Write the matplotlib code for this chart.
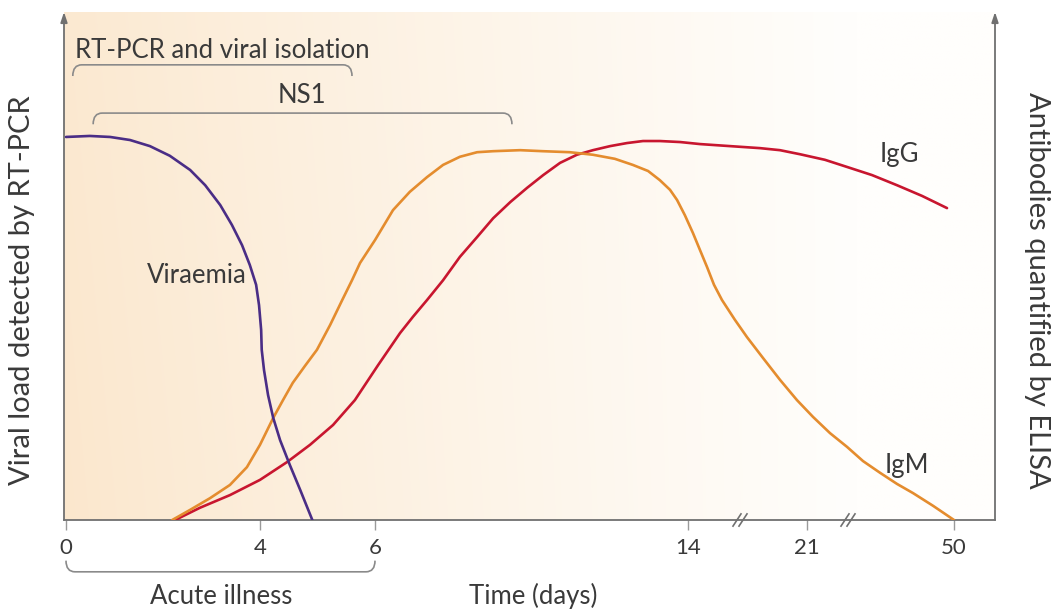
import numpy as np
import matplotlib
matplotlib.use("Agg")
import matplotlib.pyplot as plt
from matplotlib.path import Path
from matplotlib.patches import PathPatch

plt.rcParams['font.family'] = ['Lato', 'DejaVu Sans']

# ---------------- data ----------------
tick_days = [0, 4, 6, 14, 21, 50]
tick_labels = ['0', '4', '6', '14', '21', '50']

viraemia_days = [0.00, 0.49, 0.91, 1.32, 1.73, 2.14, 2.56, 2.87, 3.18, 3.42, 3.63, 3.79,
                 3.92, 3.98, 4.02, 4.03, 4.07, 4.14, 4.23, 4.35, 4.52, 4.70, 4.91]
viraemia_vals = [0.754, 0.756, 0.754, 0.748, 0.736, 0.717, 0.689, 0.659, 0.620, 0.581,
                 0.541, 0.502, 0.463, 0.423, 0.374, 0.335, 0.295, 0.246, 0.201, 0.157,
                 0.108, 0.059, 0.0]

igm_days = [2.19, 2.56, 2.97, 3.38, 3.73, 4.00, 4.23, 4.40, 4.57, 4.78, 4.99, 5.22, 5.43,
            5.60, 5.74, 6.00, 6.46, 6.89, 7.33, 7.74, 8.17, 8.61, 9.02, 9.71, 10.29,
            10.98, 11.57, 12.13, 12.59, 12.98, 13.28, 13.54, 13.72, 13.92, 14.29, 14.71,
            15.12, 15.53, 16.00, 16.76, 17.47, 18.41, 19.41, 20.41, 22.18, 25.54, 28.89,
            32.05, 35.40, 38.76, 41.91, 45.86, 50.0]
igm_vals = [0.0, 0.020, 0.043, 0.069, 0.104, 0.148, 0.201, 0.236, 0.270, 0.303, 0.335,
            0.384, 0.433, 0.472, 0.506, 0.551, 0.610, 0.646, 0.675, 0.699, 0.715, 0.724,
            0.726, 0.728, 0.726, 0.724, 0.719, 0.711, 0.699, 0.687, 0.669, 0.650, 0.630,
            0.600, 0.565, 0.531, 0.498, 0.463, 0.433, 0.394, 0.360, 0.319, 0.276, 0.236,
            0.203, 0.171, 0.144, 0.116, 0.093, 0.071, 0.053, 0.028, 0.0]

igg_days = [2.25, 2.76, 3.38, 4.00, 4.47, 4.87, 5.27, 5.65, 6.08, 6.64, 6.97, 7.33, 7.74,
            8.17, 8.61, 9.02, 9.46, 9.89, 10.30, 10.73, 11.16, 11.57, 12.01, 12.44,
            12.85, 13.28, 13.80, 14.71, 16.47, 18.24, 19.41, 20.59, 24.55, 28.89, 33.82,
            38.76, 43.69, 48.62]
igg_vals = [0.0, 0.024, 0.049, 0.079, 0.114, 0.148, 0.187, 0.236, 0.305, 0.368, 0.400,
            0.433, 0.472, 0.518, 0.557, 0.594, 0.626, 0.654, 0.679, 0.703, 0.719, 0.728,
            0.736, 0.742, 0.746, 0.746, 0.744, 0.740, 0.736, 0.732, 0.728, 0.720, 0.709,
            0.695, 0.679, 0.659, 0.638, 0.614]

rtpcr_span = [0.14, 5.6]
ns1_span = [0.56, 9.5]
acute_span = [0.0, 6.0]

# ---------------- layout ----------------
W, H = 1056, 614
tick_px = [66, 260, 375, 688, 807, 954]   # broken, non-linear time axis
break_px = [740, 848]
x_left, x_right = 64, 995
y_bottom_px, y_top_px = 520, 12


def to_pos(d):
    return np.interp(d, tick_days, tick_px)


fig = plt.figure(figsize=(W / 100, H / 100), dpi=100)
ax = fig.add_axes([x_left / W, (H - y_bottom_px) / H, (x_right - x_left) / W,
                   (y_bottom_px - y_top_px) / H])
ax.set_xlim(x_left, x_right)
ax.set_ylim(0, 1)

# background gradient
nx, ny = 400, 100
tx = np.linspace(0, 1, nx)[None, :]
ty = np.linspace(0, 1, ny)[:, None]
left_c = np.array([251, 231, 205]) / 255
right_c = np.array([255, 254, 252]) / 255
t = np.clip(tx / 0.85, 0, 1) ** 0.9
t = t * np.ones_like(ty) + 0.08 * ty * (1 - t)
t = np.clip(t, 0, 1)
img = left_c[None, None, :] * (1 - t[..., None]) + right_c[None, None, :] * t[..., None]
ax.imshow(img, extent=[x_left, x_right, 0, 1], aspect='auto', zorder=0,
          interpolation='bilinear', origin='lower')

text_c = '#3a3a3a'
axis_c = '#707070'
lw = 1.9

# curves
ax.plot(to_pos(np.array(igg_days)), igg_vals, color='#c8162f', lw=lw,
        solid_capstyle='round', solid_joinstyle='round', zorder=3)
ax.plot(to_pos(np.array(igm_days)), igm_vals, color='#e48c2e', lw=lw,
        solid_capstyle='round', solid_joinstyle='round', zorder=4)
ax.plot(to_pos(np.array(viraemia_days)), viraemia_vals, color='#4a2d86', lw=lw,
        solid_capstyle='round', solid_joinstyle='round', zorder=5)

# spines / ticks
for s in ['top', 'left', 'right']:
    ax.spines[s].set_visible(False)
ax.spines['bottom'].set_color(axis_c)
ax.spines['bottom'].set_linewidth(1.3)
ax.set_yticks([])
ax.set_xticks(tick_px)
ax.set_xticklabels(tick_labels, fontsize=16, color=text_c)
ax.tick_params(axis='x', direction='out', length=7, width=1.0, color='#9a9a9a',
               pad=6)

# vertical axes with arrows
for xa in (x_left, x_right):
    ax.annotate('', xy=(xa, 1.0), xytext=(xa, 0.0),
                arrowprops=dict(arrowstyle='-|>,head_length=0.6,head_width=0.2',
                                color=axis_c, lw=1.3, shrinkA=0, shrinkB=0),
                annotation_clip=False, zorder=6)

# break marks
for bx in break_px:
    for off in (-3, 3):
        ax.plot([bx + off - 4, bx + off + 4], [-0.012, 0.012], color=axis_c, lw=1.2,
                clip_on=False, zorder=7)


def bracket(x0, x1, y, dy, r=9):
    verts = [(x0, y + dy), (x0, y), (x0 + r, y), (x1 - r, y), (x1, y), (x1, y + dy)]
    codes = [Path.MOVETO, Path.CURVE3, Path.CURVE3, Path.LINETO, Path.CURVE3, Path.CURVE3]
    p = PathPatch(Path(verts, codes), fill=False, edgecolor='#8a8a8a', lw=1.2,
                  clip_on=False, zorder=6)
    ax.add_patch(p)


bracket(to_pos(rtpcr_span[0]), to_pos(rtpcr_span[1]), 0.896, -0.022)
bracket(to_pos(ns1_span[0]), to_pos(ns1_span[1]), 0.801, -0.022)
bracket(to_pos(acute_span[0]), to_pos(acute_span[1]), -0.102, 0.022)

fs = 18.5
ax.text(222, 0.909, 'RT-PCR and viral isolation',
        ha='center', va='baseline', fontsize=fs, color=text_c)
ax.text(302, 0.821, 'NS1', ha='center', va='baseline', fontsize=fs, color=text_c)
ax.text(221, -0.165, 'Acute illness', ha='center',
        va='baseline', fontsize=fs, color=text_c, clip_on=False)
ax.text(533, -0.165, 'Time (days)', ha='center', va='baseline', fontsize=fs,
        color=text_c, clip_on=False)

ax.text(to_pos(2.69), 0.467, 'Viraemia', ha='center', va='baseline', fontsize=fs,
        color=text_c, zorder=8)
ax.text(to_pos(39.3), 0.705, 'IgG', ha='center', va='baseline', fontsize=fs,
        color=text_c)
ax.text(to_pos(40.7), 0.093, 'IgM', ha='center', va='baseline', fontsize=fs,
        color=text_c)

fig.text(22 / W, 1 - 290 / H, 'Viral load detected by RT-PCR', rotation=90,
         ha='center', va='center', fontsize=21, color=text_c)
fig.text(1037 / W, 1 - 290 / H, 'Antibodies quantified by ELISA', rotation=-90,
         ha='center', va='center', fontsize=21, color=text_c)

fig.savefig('out.png', dpi=100, facecolor='white')
